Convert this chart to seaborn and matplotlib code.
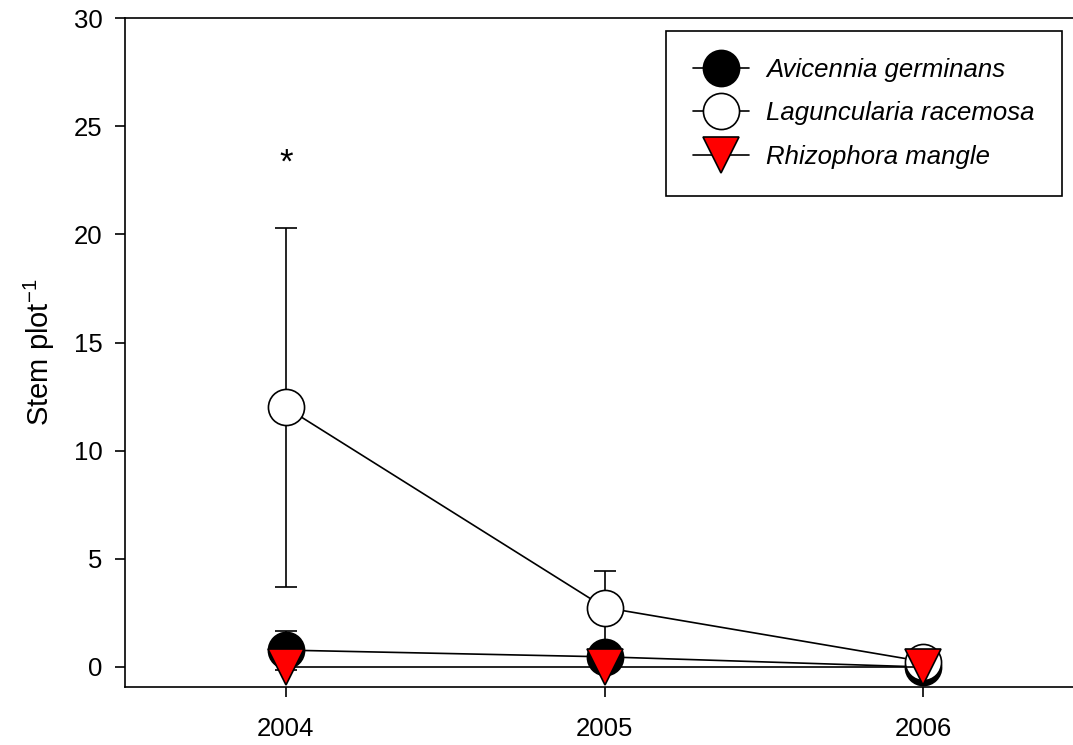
import matplotlib
matplotlib.use("Agg")
import matplotlib.pyplot as plt
import seaborn as sns
import numpy as np
import pandas as pd

years = [2004, 2005, 2006]
species = ["Avicennia germinans", "Laguncularia racemosa", "Rhizophora mangle"]
avicennia = [0.78, 0.47, 0.0]
avicennia_err = [0.9, 0.0, 0.0]
laguncularia = [12.0, 2.75, 0.25]
laguncularia_err = [8.3, 1.7, 0.0]
rhizophora = [0.0, 0.0, 0.0]
rhizophora_err = [0.0, 0.0, 0.0]
yticks = [0, 5, 10, 15, 20, 25, 30]

sns.set_style("ticks")
plt.rcParams["font.family"] = ["Liberation Sans", "DejaVu Sans"]
plt.rcParams["text.color"] = "black"
plt.rcParams["axes.labelcolor"] = "black"
plt.rcParams["xtick.color"] = "black"
plt.rcParams["ytick.color"] = "black"
plt.rcParams["mathtext.fontset"] = "custom"
plt.rcParams["mathtext.rm"] = "Liberation Sans"
plt.rcParams["mathtext.it"] = "Liberation Sans:italic"

fig = plt.figure(figsize=(10.73, 7.45), dpi=100)
ax = fig.add_axes([0.1165, 0.078, 0.8835, 0.8978])

series = [
    (avicennia, avicennia_err, "o", "black", 2),
    (laguncularia, laguncularia_err, "o", "white", 3),
    (rhizophora, rhizophora_err, "v", "red", 4),
]
for (vals, errs, mk, fc, z), name in zip(series, species):
    df = pd.DataFrame({"year": years, "value": vals})
    e = np.array(errs)
    mask = e > 0
    if mask.any():
        ax.errorbar(np.array(years)[mask], np.array(vals)[mask], yerr=e[mask],
                    fmt="none", ecolor="black", elinewidth=1.2, capsize=8,
                    capthick=1.2, zorder=z - 0.5)
    sns.lineplot(data=df, x="year", y="value", ax=ax, color="black",
                 linewidth=1.2, marker=mk, markersize=26,
                 markerfacecolor=fc, markeredgecolor="black",
                 markeredgewidth=1.2, label=name, zorder=z)

ax.text(2004, 23.3, "*", ha="center", va="center", fontsize=25,
        color="black")

ax.set_xlim(2003.495, 2006.47)
ax.set_ylim(-0.92, 30)
ax.set_xticks(years)
ax.set_xticklabels([str(y) for y in years])
ax.set_yticks(yticks)
ax.set_xlabel("")
ax.set_ylabel("Stem plot$^{\\mathregular{-1}}$", fontsize=21, labelpad=12)
ax.tick_params(axis="y", direction="out", length=7, width=1.2,
               labelsize=18.5, pad=9)
ax.tick_params(axis="x", direction="out", length=7, width=1.2,
               labelsize=18.5, pad=15)
for s in ax.spines.values():
    s.set_linewidth(1.2)
    s.set_color("black")
ax.spines["right"].set_visible(False)

leg = ax.legend(loc="upper right", bbox_to_anchor=(0.988, 0.9806),
                fontsize=18.5, frameon=True, fancybox=False,
                handlelength=2.2, borderpad=1.05, labelspacing=0.75,
                handletextpad=0.65, borderaxespad=0)
leg.get_frame().set_edgecolor("black")
leg.get_frame().set_linewidth(1.2)
leg.get_frame().set_alpha(1)
for t in leg.get_texts():
    t.set_fontstyle("italic")

fig.savefig("out.png", dpi=100)
